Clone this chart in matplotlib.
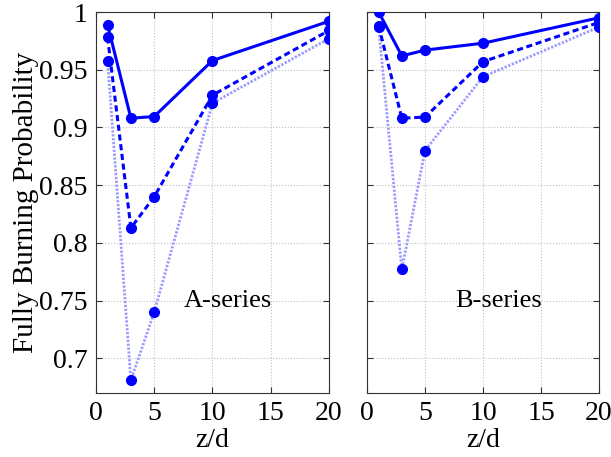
import matplotlib
matplotlib.use("Agg")
import matplotlib.pyplot as plt

x = [1, 3, 5, 10, 20]
A_solid = [0.989, 0.908, 0.9095, 0.958, 0.992]
A_dashed = [0.978, 0.813, 0.840, 0.928, 0.984]
A_dotted = [0.958, 0.681, 0.740, 0.921, 0.977]
B_solid = [1.000, 0.962, 0.967, 0.973, 0.995]
B_dashed = [0.988, 0.908, 0.909, 0.957, 0.991]
B_dotted = [0.987, 0.777, 0.880, 0.944, 0.987]
xticks = [0, 5, 10, 15, 20]
yticks = [0.7, 0.75, 0.8, 0.85, 0.9, 0.95, 1.0]
ytick_labels = ["0.7", "0.75", "0.8", "0.85", "0.9", "0.95", "1"]
panel_labels = ["A-series", "B-series"]

plt.rcParams['font.family'] = ['Liberation Serif', 'DejaVu Serif']

fig = plt.figure(figsize=(6.11, 4.57), dpi=100)
ax1 = fig.add_axes([0.157, 0.14, 0.3815, 0.8337])
ax2 = fig.add_axes([0.6007, 0.14, 0.3797, 0.8337])

blue = '#0000ff'
light = '#9a9aff'

for ax, s, d, t, lab in [(ax1, A_solid, A_dashed, A_dotted, panel_labels[0]),
                          (ax2, B_solid, B_dashed, B_dotted, panel_labels[1])]:
    ax.plot(x, t, linestyle=':', color=light, linewidth=2.0, dashes=(0.8, 0.6), zorder=2)
    ax.plot(x, t, linestyle='none', marker='o', color=blue, markersize=7, zorder=3)
    ax.plot(x, d, linestyle='--', color=blue, linewidth=2.2, dashes=(2.0, 1.2),
            marker='o', markersize=7, zorder=4)
    ax.plot(x, s, linestyle='-', color=blue, linewidth=2.2,
            marker='o', markersize=7, zorder=5)
    ax.set_xlim(0, 20)
    ax.set_ylim(0.67, 1.0)
    ax.set_xticks(xticks)
    ax.set_yticks(yticks)
    ax.grid(True, linestyle=':', color='#c0c0c0', linewidth=0.8)
    ax.set_axisbelow(True)
    ax.tick_params(direction='in', length=4, top=True, right=True,
                   labelsize=20, color='#333333', pad=6)
    for sp in ax.spines.values():
        sp.set_color('#333333')
        sp.set_linewidth(0.8)
    ax.set_xlabel('z/d', fontsize=20, labelpad=1)
    ax.text(11.3, 0.75, lab, fontsize=19, ha='center', va='center')

ax1.set_yticklabels(ytick_labels)
ax1.set_ylabel('Fully Burning Probability', fontsize=21, labelpad=0)
ax2.set_yticklabels([])

fig.savefig('out.png', dpi=100)
